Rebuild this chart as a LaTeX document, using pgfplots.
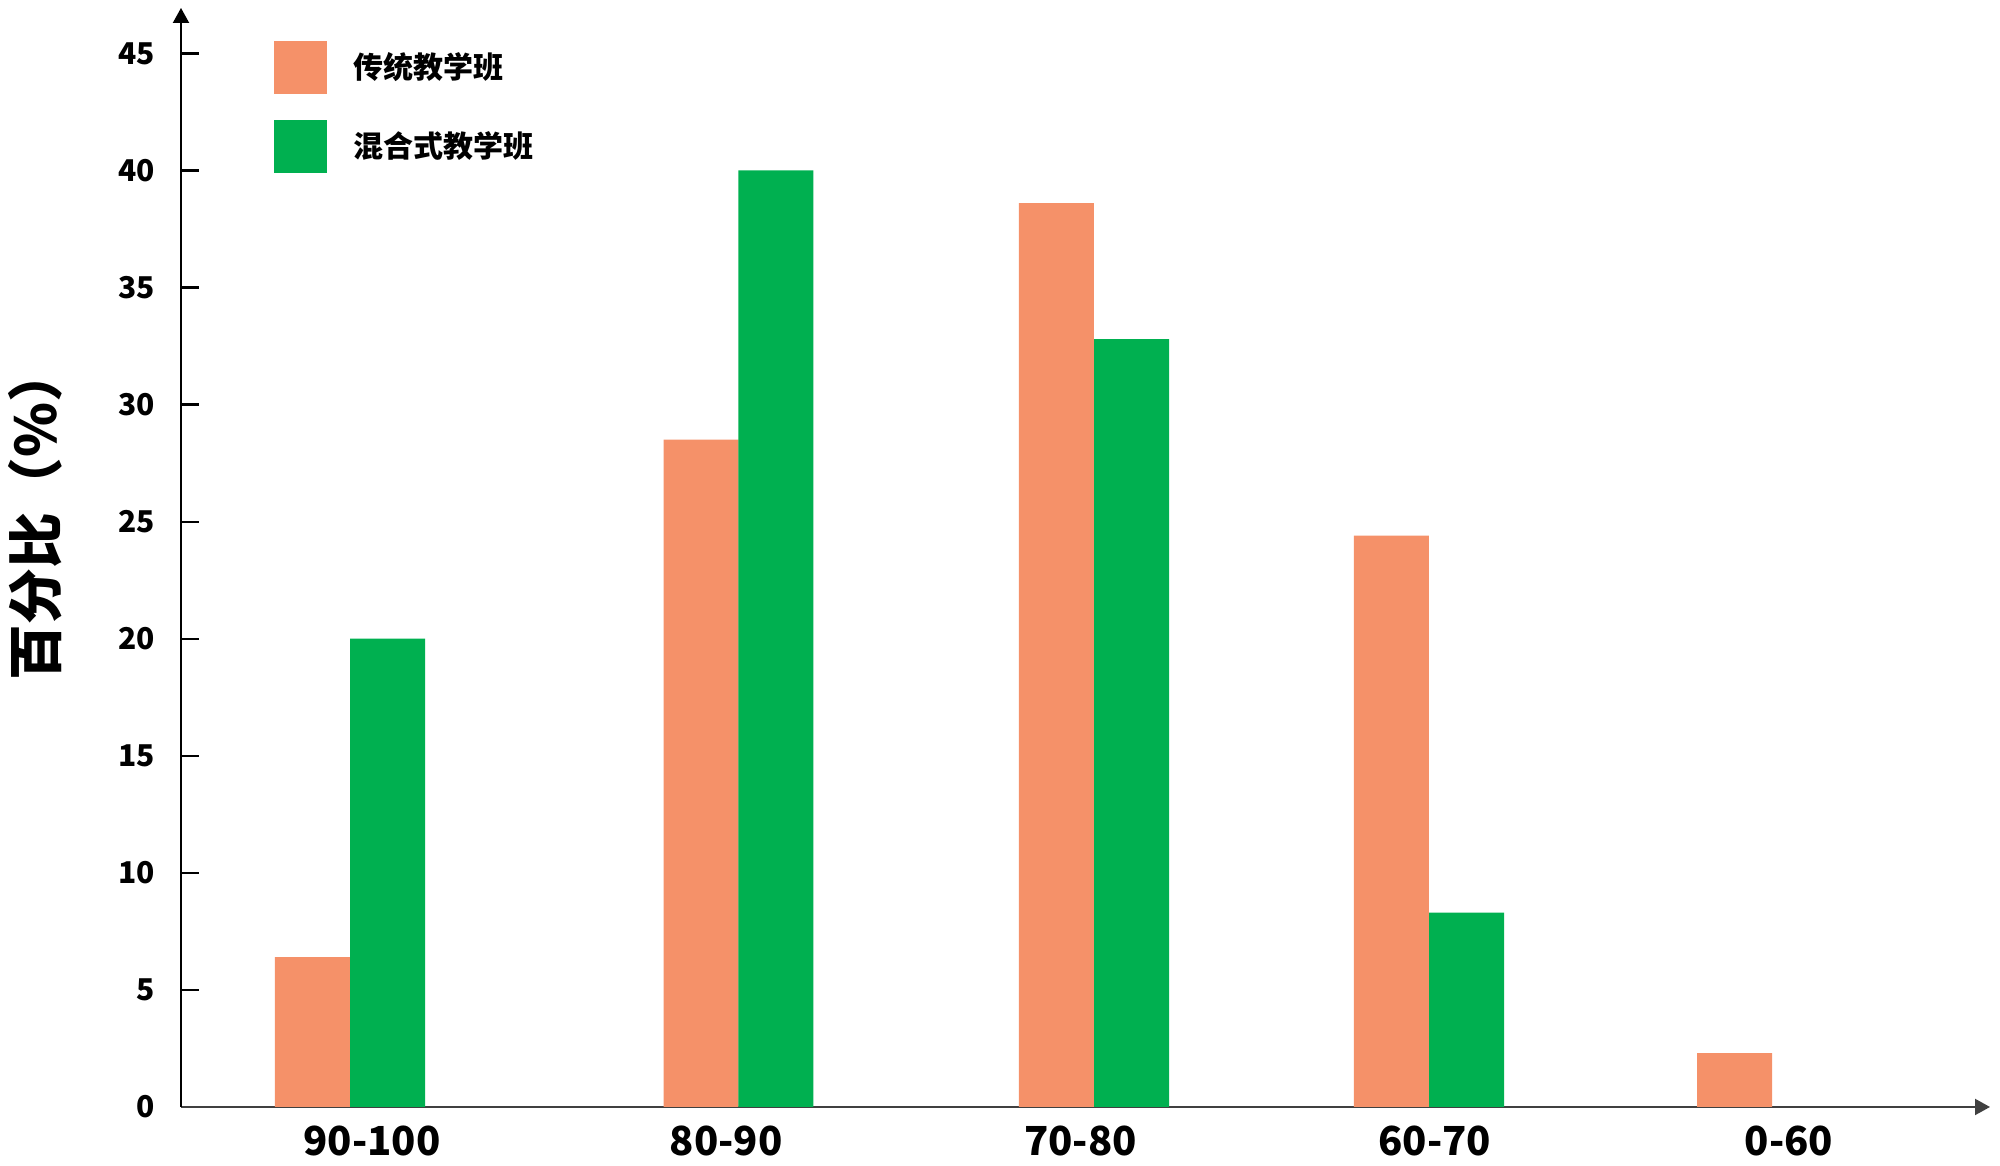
\documentclass[border=0pt]{standalone}
\usepackage{fontspec}
\setmainfont{Noto Sans CJK SC}
\usepackage{pgfplots}
\pgfplotsset{compat=1.18}
\usetikzlibrary{arrows.meta}
\definecolor{cOrange}{RGB}{245,145,105}
\definecolor{cGreen}{RGB}{0,176,80}
\pgfplotsset{
  sqlegend/.style={legend image code/.code={\fill[##1] (0pt,-10.6pt) rectangle (21.2pt,10.6pt);}},
}
\begin{document}
\begin{tikzpicture}
\begin{axis}[
  name=ax,
  scale only axis,
  width=723.6pt, height=439.6pt,
  xmin=-0.539, xmax=4.567, ymin=0, ymax=46.94,
  enlargelimits=false,
  axis lines=left,
  x axis line style={-{Triangle[width=6.4pt,length=6pt]}, line width=0.8pt, black!75},
  y axis line style={-{Triangle[width=6.4pt,length=6pt]}, line width=0.8pt, black},
  ybar, bar width=0.2117,
  xtick={0,1,2,3,4},
  xticklabels={90-100,80-90,70-80,60-70,0-60},
  ytick={0,5,...,45},
  tick align=inside,
  major tick length=7.2pt,
  ytick style={line width=0.9pt, black},
  xtick style={draw=none},
  /pgf/number format/assume math mode=true,
  yticklabel style={font=\bfseries\fontsize{12}{14}\selectfont, xshift=-6.8pt},
  xticklabel style={font=\bfseries\fontsize{16}{19}\selectfont, yshift=-4pt},
  ylabel={百分比（\%）},
  ylabel style={font=\bfseries\fontsize{22.3}{26}\selectfont, at={(axis description cs:-0.0807,0.540)}, anchor=center},
  legend style={draw=none, fill=none, inner sep=0pt, at={(axis description cs:0.0509,0.9703)}, anchor=north west,
    font=\bfseries\fontsize{12}{14}\selectfont, row sep=10.2pt, column sep=10.7pt, nodes={inner sep=0pt}},
  legend cell align=left,
  clip=false,
]
\addplot[fill=cOrange, draw=none, bar shift=0pt, sqlegend] coordinates {
  (-0.168,6.4) (0.929,28.5) (1.932,38.6) (2.877,24.4) (3.846,2.3)
};
\addlegendentry{传统教学班}
\addplot[fill=cGreen, draw=none, bar shift=0pt, sqlegend] coordinates {
  (0.044,20) (1.140,40) (2.144,32.8) (3.090,8.3)
};
\addlegendentry{混合式教学班}
\end{axis}
\pgfresetboundingbox
\path[use as bounding box] ([shift={(-72.4pt,-23.6pt)}]ax.south west) rectangle ([shift={(4pt,3.2pt)}]ax.north east);
\end{tikzpicture}
\end{document}
